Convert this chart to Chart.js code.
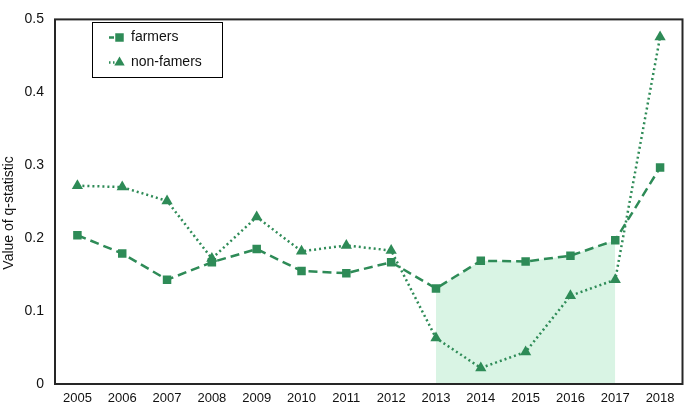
<!DOCTYPE html>
<html>
<head>
<meta charset="utf-8">
<script src="https://cdn.jsdelivr.net/npm/chart.js@4.4.0/dist/chart.umd.min.js"></script>
<style>
  html, body { margin: 0; padding: 0; background: #fff; }
  #wrap { width: 689px; height: 406px; }
</style>
</head>
<body>
<div id="wrap"><canvas id="chart"></canvas></div>
<script>
const years = ["2005", "2006", "2007", "2008", "2009", "2010", "2011", "2012", "2013", "2014", "2015", "2016", "2017", "2018"];
const farmers = [0.204, 0.179, 0.143, 0.167, 0.185, 0.155, 0.152, 0.167, 0.131, 0.169, 0.168, 0.176, 0.197, 0.297];
const nonFarmers = [0.272, 0.270, 0.251, 0.172, 0.229, 0.182, 0.190, 0.183, 0.063, 0.022, 0.044, 0.121, 0.143, 0.476];
const shadeYears = ["2013", "2014", "2015", "2016", "2017"];
const yTicks = [0, 0.1, 0.2, 0.3, 0.4, 0.5];

const GREEN = "rgb(46,139,87)";
const SHADE = "rgb(217,244,228)";
const FONT = "'Liberation Sans', Arial, sans-serif";

// relleno bajo farmers solo entre 2013 y 2017
const shade = years.map((y, i) => shadeYears.includes(y) ? farmers[i] : null);

// caja del gráfico, título del eje y leyenda con borde
const boxPlugin = {
  id: "boxLegend",
  afterDraw(chart) {
    const { ctx, chartArea: a } = chart;
    ctx.save();
    ctx.strokeStyle = "#262626";
    ctx.lineWidth = 2;
    ctx.strokeRect(a.left, a.top, a.right - a.left, a.bottom - a.top);

    // título eje y (un poco por debajo del centro, como en el original)
    ctx.save();
    ctx.translate(9, 213);
    ctx.rotate(-Math.PI / 2);
    ctx.fillStyle = "#111";
    ctx.font = "14px " + FONT;
    ctx.textAlign = "center";
    ctx.textBaseline = "middle";
    ctx.fillText("Value of q-statistic", 0, 0);
    ctx.restore();

    // leyenda
    const bx = 92, by = 22, bw = 130, bh = 55;
    ctx.fillStyle = "#fff";
    ctx.fillRect(bx, by, bw, bh);
    ctx.strokeStyle = "#000";
    ctx.lineWidth = 1;
    ctx.strokeRect(bx + 0.5, by + 0.5, bw, bh);

    const items = [
      { label: "farmers", dash: [5, 3], style: "rect", r: 6, y: 37.5 },
      { label: "non-famers", dash: [1.5, 2.5], style: "triangle", r: 6, y: 62.5 },
    ];
    items.forEach(it => {
      ctx.strokeStyle = GREEN;
      ctx.lineWidth = 2.5;
      ctx.setLineDash(it.dash);
      ctx.beginPath();
      ctx.moveTo(109, it.y);
      ctx.lineTo(121, it.y);
      ctx.stroke();
      ctx.setLineDash([]);
      ctx.fillStyle = GREEN;
      Chart.helpers.drawPoint(ctx, { pointStyle: it.style, radius: it.r, borderWidth: 0 }, 119.5, it.y);
      ctx.fillStyle = "#111";
      ctx.font = "14px " + FONT;
      ctx.textAlign = "left";
      ctx.textBaseline = "middle";
      ctx.fillText(it.label, 131, it.y);
    });
    ctx.restore();
  }
};

new Chart(document.getElementById("chart"), {
  type: "line",
  data: {
    labels: years,
    datasets: [
      {
        label: "farmers",
        data: farmers,
        borderColor: GREEN,
        backgroundColor: GREEN,
        borderWidth: 2.5,
        borderDash: [9, 5],
        pointStyle: "rect",
        pointRadius: 6,
        pointBorderWidth: 0,
        pointBackgroundColor: GREEN,
        tension: 0,
        order: 1,
      },
      {
        label: "non-famers",
        data: nonFarmers,
        borderColor: GREEN,
        backgroundColor: GREEN,
        borderWidth: 2.5,
        borderDash: [2, 3],
        pointStyle: "triangle",
        pointRadius: 6.5,
        pointBorderWidth: 0,
        pointBackgroundColor: GREEN,
        tension: 0,
        order: 2,
      },
      {
        label: "shade",
        data: shade,
        borderWidth: 0,
        borderColor: "rgba(0,0,0,0)",
        backgroundColor: SHADE,
        pointRadius: 0,
        fill: "origin",
        spanGaps: false,
        order: 3,
      },
    ],
  },
  options: {
    responsive: true,
    maintainAspectRatio: false,
    animation: false,
    layout: { padding: { top: 5, right: 3, left: 0, bottom: 0 } },
    plugins: {
      legend: { display: false },
      tooltip: { enabled: false },
    },
    scales: {
      x: {
        offset: true,
        grid: { display: false, drawTicks: false },
        border: { display: false },
        ticks: { color: "#111", font: { family: FONT, size: 13 }, padding: 7, maxRotation: 0, autoSkip: false },
        afterFit(scale) { scale.height = 22; },
      },
      y: {
        min: 0,
        max: 0.5,
        grid: { display: false, drawTicks: false },
        border: { display: false },
        afterBuildTicks(scale) { scale.ticks = yTicks.map(v => ({ value: v })); },
        ticks: { color: "#111", font: { family: FONT, size: 14 }, padding: 11 },
        afterFit(scale) { scale.width = 55; },
      },
    },
  },
  plugins: [boxPlugin],
});
</script>
</body>
</html>
